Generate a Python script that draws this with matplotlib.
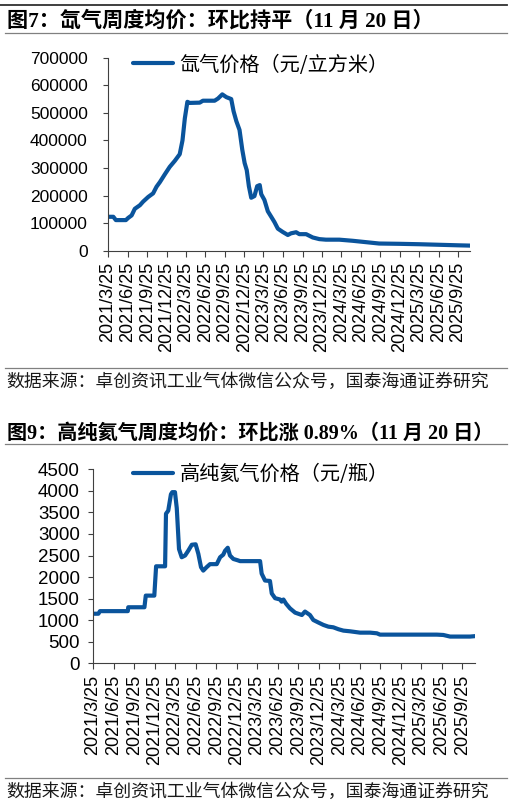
import matplotlib
matplotlib.use("Agg")
import matplotlib.pyplot as plt
import pandas as pd
from matplotlib.lines import Line2D

# ---------------- data ----------------
xe_dates = ["2021-03-25", "2021-04-19", "2021-05-01", "2021-06-17", "2021-06-28", "2021-07-14",
            "2021-07-29", "2021-08-22", "2021-09-06", "2021-09-30", "2021-10-23", "2021-11-08",
            "2021-11-24", "2021-12-17", "2022-01-09", "2022-02-02", "2022-02-25", "2022-03-10",
            "2022-03-21", "2022-04-02", "2022-04-13", "2022-05-30", "2022-06-14", "2022-08-08",
            "2022-08-24", "2022-09-13", "2022-10-02", "2022-10-25", "2022-11-05", "2022-11-18",
            "2022-12-03", "2022-12-16", "2022-12-27", "2023-01-06", "2023-01-16", "2023-01-27",
            "2023-02-11", "2023-02-24", "2023-03-08", "2023-03-15", "2023-03-30", "2023-04-15",
            "2023-05-01", "2023-05-16", "2023-06-01", "2023-06-24", "2023-07-18", "2023-08-02",
            "2023-08-26", "2023-09-10", "2023-10-12", "2023-11-12", "2023-12-13", "2024-01-13",
            "2024-03-16", "2024-05-17", "2024-07-19", "2024-09-19", "2024-12-21", "2025-03-25",
            "2025-06-27", "2025-09-28", "2025-11-20"]
xe_values = [123000, 123000, 111000, 111000, 119000, 128000,
             152000, 165000, 178000, 195000, 208000, 232000,
             249000, 277000, 304000, 326000, 350000, 400000,
             480000, 540000, 536000, 537000, 544000, 544000,
             552000, 567000, 557000, 550000, 506000, 470000,
             438000, 366000, 318000, 292000, 234000, 192000,
             198000, 234000, 238000, 205000, 184000, 143000,
             123000, 104000, 80000, 68000, 57000, 63000,
             67000, 60000, 60000, 48000, 42000, 40000,
             40000, 36000, 31000, 26000, 25000, 23500,
             21500, 19500, 18500]

he_dates = ["2021-03-25", "2021-04-18", "2021-04-25", "2021-08-27", "2021-08-29", "2021-11-09",
            "2021-11-15", "2021-12-23", "2021-12-31", "2022-02-09", "2022-02-13", "2022-02-23",
            "2022-03-07", "2022-03-13", "2022-03-25", "2022-04-02", "2022-04-12", "2022-04-24",
            "2022-05-09", "2022-05-23", "2022-06-08", "2022-06-25", "2022-07-07", "2022-07-19",
            "2022-07-29", "2022-08-13", "2022-08-28", "2022-09-27", "2022-10-12", "2022-10-26",
            "2022-11-03", "2022-11-15", "2022-11-25", "2022-12-10", "2022-12-29", "2023-01-09",
            "2023-04-08", "2023-04-15", "2023-04-30", "2023-05-22", "2023-05-30", "2023-06-14",
            "2023-07-06", "2023-07-13", "2023-07-21", "2023-08-02", "2023-08-19", "2023-09-11",
            "2023-10-11", "2023-10-25", "2023-11-05", "2023-11-16", "2023-12-01", "2023-12-24",
            "2024-01-15", "2024-02-06", "2024-02-28", "2024-03-22", "2024-04-13", "2024-05-13",
            "2024-06-26", "2024-08-10", "2024-09-09", "2024-09-23", "2025-06-03", "2025-07-02",
            "2025-08-01", "2025-10-29", "2025-11-20"]
he_values = [1150, 1150, 1210, 1210, 1300, 1300,
             1570, 1570, 2250, 2250, 3470, 3540,
             3920, 3970, 3970, 3600, 2650, 2460,
             2500, 2610, 2750, 2760, 2540, 2230,
             2150, 2230, 2300, 2300, 2460, 2520,
             2610, 2680, 2500, 2420, 2390, 2370,
             2370, 2080, 1920, 1910, 1620, 1510,
             1480, 1430, 1480, 1380, 1275, 1175,
             1120, 1200, 1160, 1120, 1005, 945,
             890, 850, 835, 790, 758, 742,
             711, 711, 696, 665, 665, 657,
             620, 620, 630]

tick_labels = ["2021/3/25", "2021/6/25", "2021/9/25", "2021/12/25", "2022/3/25", "2022/6/25",
               "2022/9/25", "2022/12/25", "2023/3/25", "2023/6/25", "2023/9/25", "2023/12/25",
               "2024/3/25", "2024/6/25", "2024/9/25", "2024/12/25", "2025/3/25", "2025/6/25",
               "2025/9/25"]

xe_yticks = [0, 100000, 200000, 300000, 400000, 500000, 600000, 700000]
he_yticks = [0, 500, 1000, 1500, 2000, 2500, 3000, 3500, 4000, 4500]

title1 = "图7：氙气周度均价：环比持平（11 月 20 日）"
title2 = "图9：高纯氦气周度均价：环比涨 0.89%（11 月 20 日）"
legend1 = "氙气价格（元/立方米）"
legend2 = "高纯氦气价格（元/瓶）"
source = "数据来源：卓创资讯工业气体微信公众号，国泰海通证券研究"

# ---------------- style ----------------
W, H = 512, 806
LINE_C = "#0A549C"
SPINE_C = "#404040"
CJK = ["Noto Sans CJK SC", "DejaVu Sans"]
TITLE_F = ["Liberation Serif", "Noto Sans CJK SC"]
TICK_F = ["Liberation Sans", "DejaVu Sans"]

fig = plt.figure(figsize=(W / 100, H / 100), dpi=100)


def fy(py):
    return 1 - py / H


def fx(px):
    return px / W


def hline(py, x0=5, x1=507, color="#808080", lw=0.9):
    fig.add_artist(Line2D([fx(x0), fx(x1)], [fy(py), fy(py)], color=color, lw=lw,
                          transform=fig.transFigure))


def make_panel(rect_px, dates, values, yticks, legtext, leg_anchor, ypad, ysize):
    left, top, right, bottom = rect_px
    ax = fig.add_axes([fx(left), fy(bottom), fx(right - left), (bottom - top) / H])
    d = pd.to_datetime(dates)
    ax.plot(d, values, color=LINE_C, lw=3.0, solid_joinstyle="round",
            solid_capstyle="round", label=legtext)
    ax.set_xlim(d[0], d[-1])
    ax.set_ylim(yticks[0], yticks[-1])
    ax.set_yticks(yticks)
    ax.set_yticklabels([str(v) for v in yticks])
    tpos = pd.to_datetime(tick_labels, format="%Y/%m/%d")
    ax.set_xticks(tpos)
    ax.set_xticklabels(tick_labels, rotation=90, ha="center", va="top")
    for s in ["top", "right"]:
        ax.spines[s].set_visible(False)
    for s in ["left", "bottom"]:
        ax.spines[s].set_color(SPINE_C)
        ax.spines[s].set_linewidth(0.8)
    ax.tick_params(axis="y", direction="out", length=3.5, width=0.8, color=SPINE_C,
                   pad=ypad, labelsize=ysize)
    ax.tick_params(axis="x", direction="out", length=4, width=0.8, color=SPINE_C,
                   pad=4, labelsize=13)
    for lab in ax.get_xticklabels() + ax.get_yticklabels():
        lab.set_fontfamily(TICK_F)
        lab.set_color("#000000")
    leg = ax.legend(loc="center left", bbox_to_anchor=leg_anchor, frameon=False,
                    borderpad=0, borderaxespad=0, handlelength=2.0, handletextpad=0.3,
                    prop={"family": CJK, "size": 14.5})
    for line in leg.get_lines():
        line.set_linewidth(3.0)
    return ax


# ---------- panel 1 ----------
hline(5, x0=0, x1=507, color="#303030", lw=1.3)
fig.text(fx(7), fy(21.5), title1, fontsize=15.2, fontweight="bold", family=TITLE_F,
         va="center", ha="left", color="#000000")
hline(33.3)
make_panel((108, 57.7, 470, 250.7), xe_dates, xe_values, xe_yticks, legend1,
           (0.069, 0.962), 11, 12.5)
hline(367.7)
fig.text(fx(6), fy(381.7), source, fontsize=12.9, family=CJK, va="center", ha="left",
         color="#1a1a1a")

# ---------- panel 2 ----------
fig.text(fx(7), fy(433.5), title2, fontsize=14.5, fontweight="bold", family=TITLE_F,
         va="center", ha="left", color="#000000")
hline(443.8)
make_panel((93, 469.3, 475, 663.3), he_dates, he_values, he_yticks, legend2,
           (0.105, 0.974), 6, 13.5)
hline(778.3)
fig.text(fx(6), fy(791.7), source, fontsize=12.9, family=CJK, va="center", ha="left",
         color="#1a1a1a")

fig.savefig("out.png", dpi=100)
